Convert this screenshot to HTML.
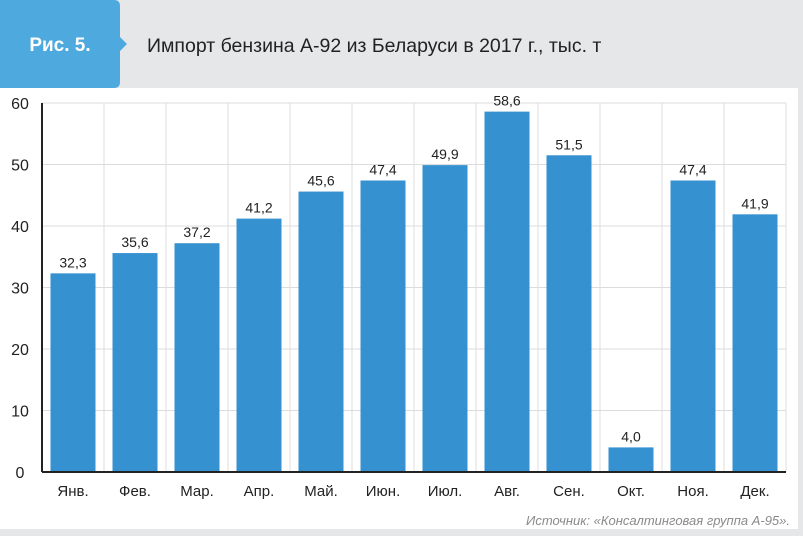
<!DOCTYPE html>
<html><head><meta charset="utf-8"><style>
body{margin:0;width:803px;height:531px;overflow:hidden;background:#e6e7e9;font-family:"Liberation Sans","DejaVu Sans",sans-serif}
#wrap{position:relative;width:803px;height:531px}
</style></head><body>
<div id="wrap">
<svg width="803" height="531" id="svg">
<rect x="0" y="0" width="803" height="88" fill="#e6e7e9"/>
<rect x="0" y="88" width="798" height="441" fill="#ffffff"/>
<path d="M0 0 H114 Q120 0 120 6 V37 L127 44 L120 51 V82 Q120 88 114 88 H0 Z" fill="#4ea9de"/>
<text x="60" y="51" text-anchor="middle" font-size="19" font-weight="bold" fill="#fff">Рис. 5.</text>
<text x="147" y="52" font-size="19.5" fill="#222">Импорт бензина А-92 из Беларуси в 2017 г., тыс. т</text>
<g id="grid"></g><g id="bars"></g><g id="axes"></g>
<text x="790" y="525" text-anchor="end" font-size="13" font-style="italic" fill="#8a8a8a">Источник: «Консалтинговая группа А-95».</text>
</svg>
</div>
<script>
const categories=["Янв.","Фев.","Мар.","Апр.","Май.","Июн.","Июл.","Авг.","Сен.","Окт.","Ноя.","Дек."];
const values=[32.3,35.6,37.2,41.2,45.6,47.4,49.9,58.6,51.5,4.0,47.4,41.9];
const labels=["32,3","35,6","37,2","41,2","45,6","47,4","49,9","58,6","51,5","4,0","47,4","41,9"];
const yTicks=[0,10,20,30,40,50,60];
const NS="http://www.w3.org/2000/svg";
const x0=42,x1=786,y0=472,yTop=103,yMax=60;
const bw=(x1-x0)/categories.length;
const y=v=>y0-(v/yMax)*(y0-yTop);
const xc=i=>x0+bw*(i+0.5);
function mk(t,a,p){const e=document.createElementNS(NS,t);for(const k in a)e.setAttribute(k,a[k]);p.appendChild(e);return e;}
const g=document.getElementById('grid'),b=document.getElementById('bars'),ax=document.getElementById('axes');
yTicks.forEach(t=>{
 if(t>0){const l=mk('line',{x1:x0,x2:x1,y1:y(t),y2:y(t),stroke:'#dcdcdc','stroke-width':1},g);
 
 }
 const tx=mk('text',{x:20,y:y(t)+6,'text-anchor':'middle','font-size':16,fill:'#222'},ax);tx.textContent=t;
 
 
});
for(let i=1;i<=categories.length;i++){const l=mk('line',{x1:x0+bw*i,x2:x0+bw*i,y1:yTop,y2:y0,stroke:'#dcdcdc','stroke-width':1},g);
 
 }
categories.forEach((c,i)=>{
 const r=mk('rect',{x:xc(i)-22.5,y:y(values[i]),width:45,height:y0-y(values[i]),fill:'#3691d0'},b);
 
 
 const vl=mk('text',{x:xc(i),y:y(values[i])-6,'text-anchor':'middle','font-size':14,fill:'#222'},b);vl.textContent=labels[i];
 
 
 const cl=mk('text',{x:xc(i),y:496,'text-anchor':'middle','font-size':15,fill:'#222'},ax);cl.textContent=c;
 
 
});
const ya=mk('line',{x1:x0,x2:x0,y1:yTop,y2:y0,stroke:'#222','stroke-width':2},ax);


const xa=mk('line',{x1:x0,x2:x1,y1:y0,y2:y0,stroke:'#222','stroke-width':2},ax);


</script>
</body></html>
